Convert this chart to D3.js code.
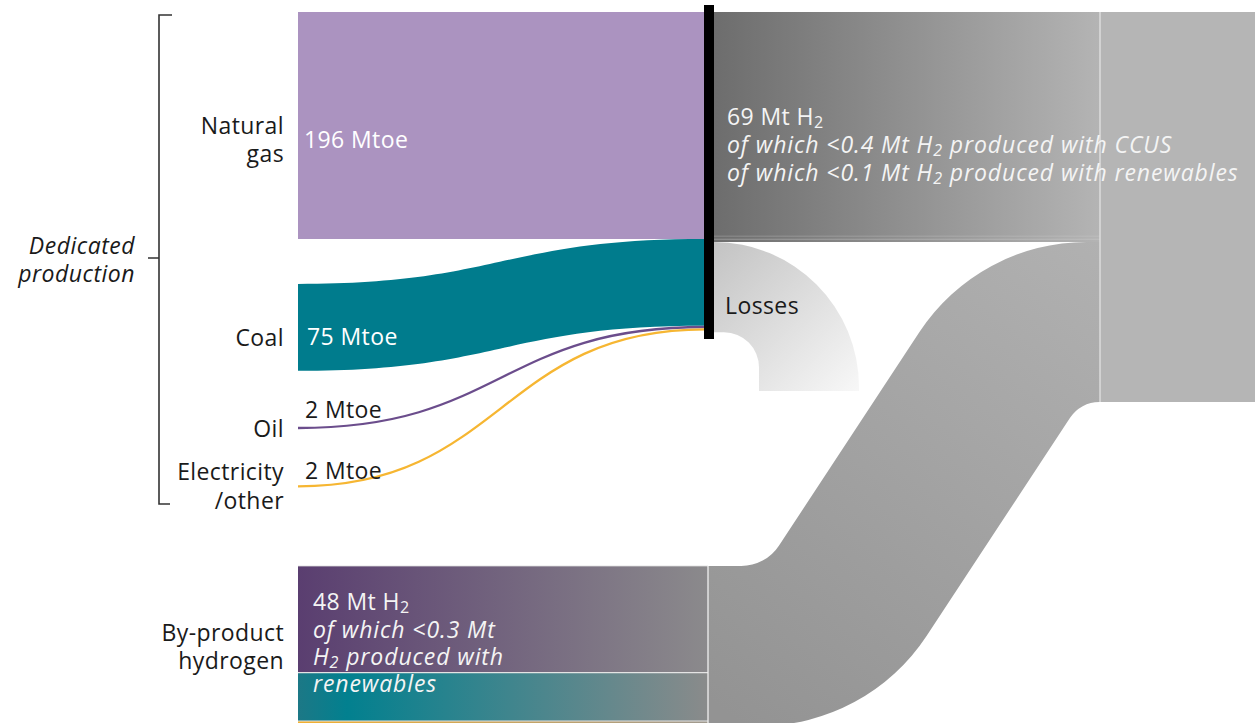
<!DOCTYPE html>
<html>
<head>
<meta charset="utf-8">
<script src="https://cdn.jsdelivr.net/npm/d3@7"></script>
<style>
  html, body { margin: 0; padding: 0; background: #fff; }
  svg { display: block; font-family: "Open Sans", "Noto Sans", sans-serif; }
</style>
</head>
<body>
<svg id="chart" width="1255" height="723"></svg>
<script>
// ---------- data ----------
const inputNames   = ["Natural gas", "Coal", "Oil", "Electricity/other"];
const inputLabels  = [["Natural", "gas"], ["Coal"], ["Oil"], ["Electricity", "/other"]];
const inputValues  = [196, 75, 2, 2];                 // Mtoe
const inputColors  = ["#ab93c0", "#007c8d", "#6b4d8c", "#f6b632"];
const lossesMtoe   = 78;                              // Mtoe (estimated)
const dedicatedH2  = 69;                              // Mt H2
const dedicatedSub = [0.4, 0.1];                      // Mt H2 with CCUS, with renewables
const byproductH2  = 48;                              // Mt H2
const byproductSub = 0.3;                             // Mt H2 with renewables
const byproductParts = [32, 14.5, 1.5];               // Mt H2 split (gas, coal, oil/other) - estimated
const totalH2      = dedicatedH2 + byproductH2;

// ---------- layout ----------
const svg = d3.select("#chart");
const X0 = 298, X1 = 704, BARW = 10, X2 = 1100, XR = 1255, XB = 708;
const TOP = 12;
const gaps = [0, 45, 56, 56];

const yE = d3.scaleLinear().domain([0, 196]).range([0, 227]);             // thickness, Mtoe
const yH = d3.scaleLinear().domain([0, totalH2]).range([TOP, TOP + 390]);  // position, Mt H2
const hH = v => yH(v) - yH(0);

const defs = svg.append("defs");
function lin(id, x1, y1, x2, y2, stops) {
  const g = defs.append("linearGradient").attr("id", id)
    .attr("gradientUnits", "userSpaceOnUse")
    .attr("x1", x1).attr("y1", y1).attr("x2", x2).attr("y2", y2);
  stops.forEach(s => g.append("stop").attr("offset", s[0]).attr("stop-color", s[1]));
}
lin("gH2", X1 + BARW, 0, X2, 0, [[0, "#6d6d6d"], [1, "#b4b4b4"]]);
lin("gS", 740, 723, 1100, 242, [[0, "#939393"], [1, "#b1b1b1"]]);
lin("gLoss", X1 + BARW, 242, 860, 392, [[0, "#c3c3c3"], [1, "#f8f8f8"]]);
lin("gBy0", X0, 0, XB, 0, [[0, "#5a3e70"], [1, "#8b8a8c"]]);
lin("gBy1", X0, 0, XB, 0, [[0, "#1c7886"], [0.12, "#02808f"], [1, "#8a8b8b"]]);
lin("gBy2", X0, 0, XB, 0, [[0, "#f2b030"], [1, "#a09a90"]]);

// left node positions (stacked with gaps)
let acc = TOP;
const leftNodes = inputValues.map((v, i) => {
  acc += gaps[i];
  const n = { name: inputNames[i], y0: acc, y1: acc + yE(v), v };
  acc = n.y1;
  return n;
});
// right stack at the conversion bar
let racc = TOP;
const rightNodes = inputValues.map(v => { const r = { y0: racc, y1: racc + yE(v) }; racc = r.y1; return r; });

// ---------- final block ----------
svg.append("rect").attr("x", X2).attr("y", yH(0)).attr("width", XR - X2).attr("height", hH(totalH2))
  .attr("fill", "#b5b5b5");

// S link from by-product to final block
(function () {
  const yL0 = 566, yL1 = 566 + hH(byproductH2);
  const yR0 = yH(dedicatedH2), yR1 = yH(totalH2);
  const k = 1.52, hw = 103.5, cx = 923, cy = (yL0 + yL1 + yR0 + yR1) / 4;
  const xT = y => cx - hw + (cy - y) / k;
  const xB = y => cx + hw + (cy - y) / k;
  const p = d3.path();
  p.moveTo(XB, yL0);
  p.arcTo(xT(yL0), yL0, xT(yR0), yR0, 45);
  p.arcTo(xT(yR0), yR0, X2, yR0, 200);
  p.lineTo(X2, yR0);
  p.lineTo(X2, yR1);
  p.arcTo(xB(yR1), yR1, xB(yL1), yL1, 35);
  p.arcTo(xB(yL1), yL1, XB, yL1, 200);
  p.lineTo(XB, yL1);
  p.closePath();
  svg.append("path").attr("d", p.toString()).attr("fill", "url(#gS)");
})();

// dedicated H2 band
svg.append("rect").attr("x", X1 + BARW).attr("y", yH(0)).attr("width", X2 - X1 - BARW).attr("height", hH(dedicatedH2))
  .attr("fill", "url(#gH2)");
let sacc = yH(dedicatedH2);
dedicatedSub.forEach((v) => {
  sacc -= Math.max(hH(v), 1) + 2;
  svg.append("rect").attr("x", X1 + BARW).attr("y", sacc).attr("width", X2 - X1 - BARW).attr("height", Math.max(hH(v), 1))
    .attr("fill", "#d0d0d0").attr("opacity", 0.3);
});
svg.append("line").attr("x1", X2).attr("x2", X2).attr("y1", yH(0)).attr("y2", yH(totalH2))
  .attr("stroke", "#e6e6e6").attr("stroke-width", 1.2);

// losses
(function () {
  const t = yH(dedicatedH2), b = t + yE(lossesMtoe);
  const xo = X1 + BARW + 145, xi = X1 + BARW + 45, yEnd = 391;
  const p = d3.path();
  p.moveTo(X1 + BARW, t);
  p.arcTo(xo, t, xo, yEnd, xo - (X1 + BARW));
  p.lineTo(xo, yEnd);
  p.lineTo(xi, yEnd);
  p.arcTo(xi, b, X1 + BARW, b, 35);
  p.lineTo(X1 + BARW, b);
  p.closePath();
  svg.append("path").attr("d", p.toString()).attr("fill", "url(#gLoss)");
})();

// ---------- input flows ----------
function bandPath(x0, a0, a1, x1, b0, b1) {
  const m = (x0 + x1) / 2;
  const p = d3.path();
  p.moveTo(x0, a0);
  p.bezierCurveTo(m, a0, m, b0, x1, b0);
  p.lineTo(x1, b1);
  p.bezierCurveTo(m, b1, m, a1, x0, a1);
  p.closePath();
  return p.toString();
}
const link = d3.linkHorizontal();
leftNodes.forEach((n, i) => {
  const r = rightNodes[i];
  if (n.v > 10) {
    svg.append("path").attr("d", bandPath(X0, n.y0, n.y1, X1 + 1, r.y0, r.y1)).attr("fill", inputColors[i]);
  } else {
    svg.append("path")
      .attr("d", link({ source: [X0, (n.y0 + n.y1) / 2], target: [X1 + 1, (r.y0 + r.y1) / 2] }))
      .attr("fill", "none").attr("stroke", inputColors[i]).attr("stroke-width", 2.3);
  }
});

// conversion bar
svg.append("rect").attr("x", X1).attr("y", 5).attr("width", BARW).attr("height", 334).attr("fill", "#000");

// ---------- by-product bar ----------
let bacc = 566;
byproductParts.forEach((v, i) => {
  const h = hH(v);
  svg.append("rect").attr("x", X0).attr("y", bacc).attr("width", XB - X0).attr("height", h)
    .attr("fill", `url(#gBy${i})`);
  if (i > 0) svg.append("line").attr("x1", X0).attr("x2", XB).attr("y1", bacc).attr("y2", bacc)
    .attr("stroke", "#e4e4e4").attr("stroke-width", 1.2);
  bacc += h;
});
svg.append("line").attr("x1", X0).attr("x2", XB).attr("y1", 566).attr("y2", 566).attr("stroke", "#ddd").attr("stroke-width", 0.8);
svg.append("line").attr("x1", XB).attr("x2", XB).attr("y1", 566).attr("y2", 723).attr("stroke", "#f0f0f0").attr("stroke-width", 1.3);

// ---------- bracket ----------
svg.append("path").attr("d", "M172,15 H159 V504 H170 M159,258 H148")
  .attr("fill", "none").attr("stroke", "#333").attr("stroke-width", 1.6);

// ---------- texts ----------
const FS = 23;
function txt(x, y, opts = {}) {
  return svg.append("text").attr("x", x).attr("y", y)
    .attr("font-size", opts.size || FS)
    .attr("fill", opts.fill || "#1a1a1a")
    .attr("text-anchor", opts.anchor || "start")
    .attr("dominant-baseline", "central")
    .attr("letter-spacing", opts.italic ? 0.9 : 0.4)
    .attr("font-style", opts.italic ? "italic" : "normal");
}
function withSub(t, parts) {
  let shifted = false;
  parts.forEach(pt => {
    if (pt.sub) {
      t.append("tspan").attr("font-size", "0.7em").attr("dy", 6).text(pt.sub);
      shifted = true;
    } else {
      const s = t.append("tspan").text(pt.t);
      if (shifted) { s.attr("dy", -6); shifted = false; }
    }
  });
  return t;
}
// left category labels
const catY = [[125, 153], [337], [428], [471, 500]];
inputLabels.forEach((lines, i) => lines.forEach((l, j) => txt(284, catY[i][j], { anchor: "end" }).text(l)));
txt(284, 632, { anchor: "end" }).text("By-product");
txt(284, 660, { anchor: "end" }).text("hydrogen");
txt(135, 245, { anchor: "end", italic: true }).attr("letter-spacing", 0.5).text("Dedicated");
txt(135, 273, { anchor: "end", italic: true }).attr("letter-spacing", 0.5).text("production");

// values
txt(304, 139, { fill: "#fff" }).text(inputValues[0] + " Mtoe");
txt(307, 336, { fill: "#fff" }).text(inputValues[1] + " Mtoe");
txt(305, 409).text(inputValues[2] + " Mtoe");
txt(305, 470).text(inputValues[3] + " Mtoe");

// dedicated H2 text
const LT = "#f4f4f4";
withSub(txt(727, 116, { fill: LT }), [{ t: dedicatedH2 + " Mt H" }, { sub: "2" }]);
withSub(txt(727, 144, { fill: LT, italic: true }),
  [{ t: "of which <" + dedicatedSub[0] + " Mt H" }, { sub: "2" }, { t: " produced with CCUS" }]);
withSub(txt(727, 172, { fill: LT, italic: true }),
  [{ t: "of which <" + dedicatedSub[1] + " Mt H" }, { sub: "2" }, { t: " produced with renewables" }]);

txt(725, 305).text("Losses");

// by-product text
withSub(txt(313, 601, { fill: LT }), [{ t: byproductH2 + " Mt H" }, { sub: "2" }]);
txt(313, 629, { fill: LT, italic: true }).text("of which <" + byproductSub + " Mt");
withSub(txt(313, 656, { fill: LT, italic: true }), [{ t: "H" }, { sub: "2" }, { t: " produced with" }]);
txt(313, 683, { fill: LT, italic: true }).text("renewables");
</script>
</body>
</html>
